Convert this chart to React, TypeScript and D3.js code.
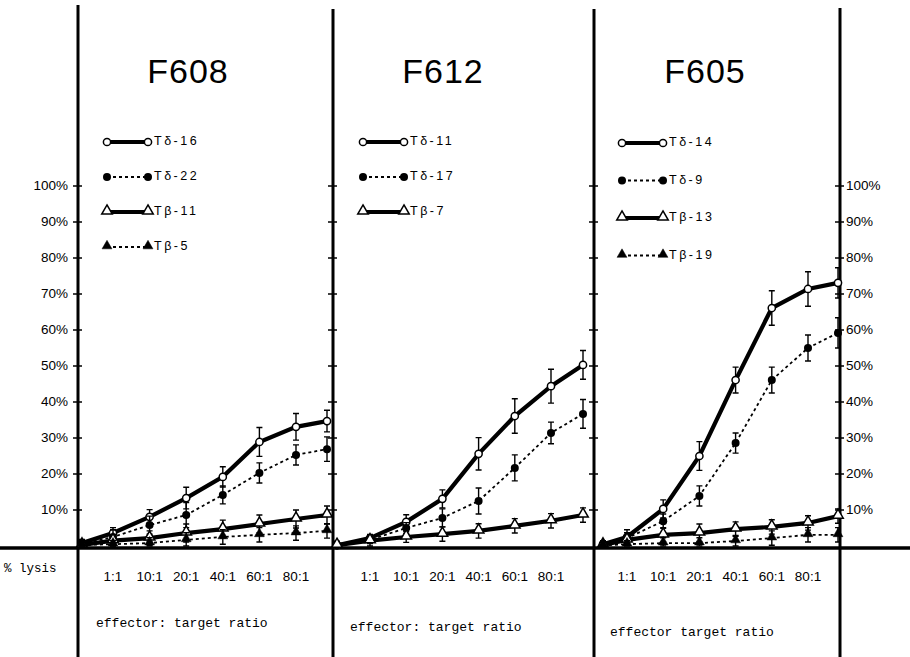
import React, { useEffect, useRef } from 'react';
import * as d3 from 'd3';

// effector:target ratios; first and last points sit next to the axes and carry no label
const ratioLabels = ['', '1:1', '10:1', '20:1', '40:1', '60:1', '80:1', ''];
const yTicks = [10, 20, 30, 40, 50, 60, 70, 80, 90, 100];

// F608
const f608Names = ['Tδ-16', 'Tδ-22', 'Tβ-11', 'Tβ-5'];
const f608Td16 = [0.8, 3.6, 8.1, 13.3, 19.2, 28.9, 33.1, 34.7];
const f608Td16Err = [1, 1.5, 2, 3, 2.8, 4, 3.7, 3];
const f608Td22 = [0.6, 2.5, 5.8, 8.6, 14.2, 20.3, 25.3, 26.9];
const f608Td22Err = [1, 2, 2.5, 3.5, 2.5, 2.8, 2.8, 3.4];
const f608Tb11 = [0.3, 1.5, 2.2, 3.6, 4.7, 6.1, 7.5, 8.6];
const f608Tb11Err = [1, 1.5, 2, 2.5, 2.5, 2.5, 2.5, 2.5];
const f608Tb5 = [0.3, 0.5, 0.8, 1.7, 2.5, 3.1, 3.6, 4.2];
const f608Tb5Err = [1, 1, 1.5, 2, 2, 2, 2, 2];

// F612
const f612Names = ['Tδ-11', 'Tδ-17', 'Tβ-7'];
const f612Td11 = [0.2, 2.2, 6.7, 13.1, 25.6, 36.1, 44.4, 50.3];
const f612Td11Err = [1, 1, 2, 2.5, 4.5, 4.8, 4.7, 4];
const f612Td17 = [0.3, 1.7, 5, 7.8, 12.5, 21.7, 31.4, 36.7];
const f612Td17Err = [1, 1, 1.5, 2.5, 3.6, 3.6, 3, 4];
const f612Tb7 = [0.2, 1.5, 2.5, 3.3, 4.2, 5.6, 7, 8.6];
const f612Tb7Err = [1, 1.5, 1.5, 2, 2, 2, 2, 2];

// F605
const f605Names = ['Tδ-14', 'Tδ-9', 'Tβ-13', 'Tβ-19'];
const f605Td14 = [0.5, 2.5, 10.3, 25, 46.1, 66.1, 71.4, 73.1];
const f605Td14Err = [1, 2, 2.5, 4, 3.6, 4.8, 4.8, 4.2];
const f605Td9 = [0.4, 2.2, 6.9, 13.9, 28.6, 46.1, 55, 59.2];
const f605Td9Err = [1, 1.5, 2, 2.8, 2.8, 3.6, 3.6, 4.2];
const f605Tb13 = [0.3, 1.7, 3.1, 3.6, 4.7, 5.3, 6.4, 8.3];
const f605Tb13Err = [1, 1.5, 2, 2.5, 2, 2, 2, 2];
const f605Tb19 = [0.2, 0.5, 0.8, 0.8, 1.4, 2.2, 3.1, 3.1];
const f605Tb19Err = [1, 1, 1.5, 1.5, 1.5, 2, 2, 2];

const kinds = ['openCircle', 'dotCircle', 'openTri', 'dotTri'];

const panels = [
  {
    title: 'F608', titleX: 188, left: 78, right: 333,
    xRange: [82, 113, 296, 327],
    legendX: 107, legendY: 142, legendStep: 35,
    footer: 'effector: target ratio', footerX: 96, footerY: 627,
    names: f608Names,
    values: [f608Td16, f608Td22, f608Tb11, f608Tb5],
    errors: [f608Td16Err, f608Td22Err, f608Tb11Err, f608Tb5Err],
    kinds: kinds,
  },
  {
    title: 'F612', titleX: 443, left: 333, right: 594,
    xRange: [337, 370, 551, 583],
    legendX: 363, legendY: 142, legendStep: 35,
    footer: 'effector: target ratio', footerX: 350, footerY: 631,
    names: f612Names,
    values: [f612Td11, f612Td17, f612Tb7],
    errors: [f612Td11Err, f612Td17Err, f612Tb7Err],
    kinds: ['openCircle', 'dotCircle', 'openTri'],
  },
  {
    title: 'F605', titleX: 705, left: 594, right: 840,
    xRange: [603, 627, 808, 838],
    legendX: 622, legendY: 143, legendStep: 37.5,
    footer: 'effector target ratio', footerX: 610, footerY: 636,
    names: f605Names,
    values: [f605Td14, f605Td9, f605Tb13, f605Tb19],
    errors: [f605Td14Err, f605Td9Err, f605Tb13Err, f605Tb19Err],
    kinds: kinds,
  },
];

const mono = '"Liberation Mono", "DejaVu Sans Mono", monospace';
const sans = '"Liberation Sans", Arial, sans-serif';

function drawMarker(g, kind, x, y) {
  if (kind === 'openCircle') {
    g.append('circle').attr('cx', x).attr('cy', y).attr('r', 3.6)
      .attr('fill', '#fff').attr('stroke', '#000').attr('stroke-width', 1.5);
  } else if (kind === 'dotCircle') {
    g.append('circle').attr('cx', x).attr('cy', y).attr('r', 4).attr('fill', '#000');
  } else {
    const open = kind === 'openTri';
    g.append('path')
      .attr('d', d3.symbol(d3.symbolTriangle, open ? 48 : 42)())
      .attr('transform', `translate(${x},${y - 1})`)
      .attr('fill', open ? '#fff' : '#000')
      .attr('stroke', '#000').attr('stroke-width', open ? 1.5 : 0.5);
  }
}

function lineStyle(sel, kind) {
  if (kind === 'openCircle' || kind === 'openTri') {
    sel.attr('stroke-width', 4.2);
  } else {
    sel.attr('stroke-width', 1.8).attr('stroke-dasharray', '3,3');
  }
}

export default function App() {
  const ref = useRef(null);

  useEffect(() => {
    const width = 910;
    const height = 657;
    const svg = d3.select(ref.current);
    svg.selectAll('*').remove();
    svg.attr('width', width).attr('height', height);

    const y = d3.scaleLinear().domain([0, 100]).range([546, 186]);

    // baseline
    svg.append('line').attr('x1', 0).attr('x2', width)
      .attr('y1', 548).attr('y2', 548)
      .attr('stroke', '#000').attr('stroke-width', 3.5);

    // vertical axes with ticks
    const axes = [{ x: 78, top: 5 }, { x: 333, top: 9 }, { x: 594, top: 9 }, { x: 840, top: 8 }];
    axes.forEach((a) => {
      svg.append('line').attr('x1', a.x).attr('x2', a.x)
        .attr('y1', a.top).attr('y2', height)
        .attr('stroke', '#000').attr('stroke-width', 3);
      svg.append('g').selectAll('line').data(yTicks).enter().append('line')
        .attr('x1', a.x - 5).attr('x2', a.x + 4)
        .attr('y1', (d) => y(d)).attr('y2', (d) => y(d))
        .attr('stroke', '#000').attr('stroke-width', 1.5);
    });

    // left and right tick labels
    svg.append('g').selectAll('text').data(yTicks).enter().append('text')
      .attr('x', 68).attr('y', (d) => y(d) + 4)
      .attr('text-anchor', 'end')
      .style('font-family', sans).style('font-size', '13.5px')
      .text((d) => `${d}%`);
    svg.append('g').selectAll('text').data(yTicks).enter().append('text')
      .attr('x', 846).attr('y', (d) => y(d) + 4)
      .style('font-family', sans).style('font-size', '13.5px')
      .text((d) => `${d}%`);

    svg.append('text').attr('x', 4).attr('y', 572)
      .style('font-family', mono).style('font-size', '12.5px')
      .text('% lysis');

    panels.forEach((p) => {
      const x = d3.scaleLinear().domain([0, 1, 6, 7]).range(p.xRange);
      const g = svg.append('g');

      g.append('text').attr('x', p.titleX).attr('y', 83)
        .attr('text-anchor', 'middle')
        .style('font-family', sans).style('font-size', '34px')
        .style('letter-spacing', '1px')
        .text(p.title);

      // x labels
      g.append('g').selectAll('text')
        .data(ratioLabels.map((l, i) => ({ l, i })).filter((d) => d.l))
        .enter().append('text')
        .attr('x', (d) => x(d.i)).attr('y', 581)
        .attr('text-anchor', 'middle')
        .style('font-family', sans).style('font-size', '13.5px')
        .text((d) => d.l);

      g.append('text').attr('x', p.footerX).attr('y', p.footerY)
        .style('font-family', mono).style('font-size', '13px')
        .text(p.footer);

      // series
      p.values.forEach((vals, si) => {
        const kind = p.kinds[si];
        const errs = p.errors[si];
        const sg = g.append('g');

        sg.selectAll('path.err').data(vals).enter().append('path')
          .attr('class', 'err')
          .attr('d', (d, i) => {
            const cx = x(i);
            const t = y(d + errs[i]);
            const b = y(Math.max(0, d - errs[i]));
            return `M${cx},${t}V${b}M${cx - 3},${t}H${cx + 3}M${cx - 3},${b}H${cx + 3}`;
          })
          .attr('fill', 'none').attr('stroke', '#000').attr('stroke-width', 1.4);

        const line = d3.line().x((d, i) => x(i)).y((d) => y(d));
        const path = sg.append('path').attr('d', line(vals))
          .attr('fill', 'none').attr('stroke', '#000');
        lineStyle(path, kind);

        vals.forEach((d, i) => drawMarker(sg, kind, x(i), y(d)));

        // legend
        const ly = p.legendY + si * p.legendStep;
        const lg = g.append('g');
        const ll = lg.append('line').attr('x1', p.legendX).attr('x2', p.legendX + 41)
          .attr('y1', ly).attr('y2', ly).attr('stroke', '#000');
        lineStyle(ll, kind);
        drawMarker(lg, kind, p.legendX, ly);
        drawMarker(lg, kind, p.legendX + 41, ly);
        lg.append('text').attr('x', p.legendX + 47).attr('y', ly + 3)
          .style('font-family', sans).style('font-size', '12.5px')
          .style('letter-spacing', '2.5px')
          .text(p.names[si]);
      });
    });
  }, []);

  return (
    <div style={{ position: 'absolute', left: 0, top: 0 }}>
      <svg ref={ref} style={{ display: 'block', background: '#fff' }}></svg>
    </div>
  );
}
